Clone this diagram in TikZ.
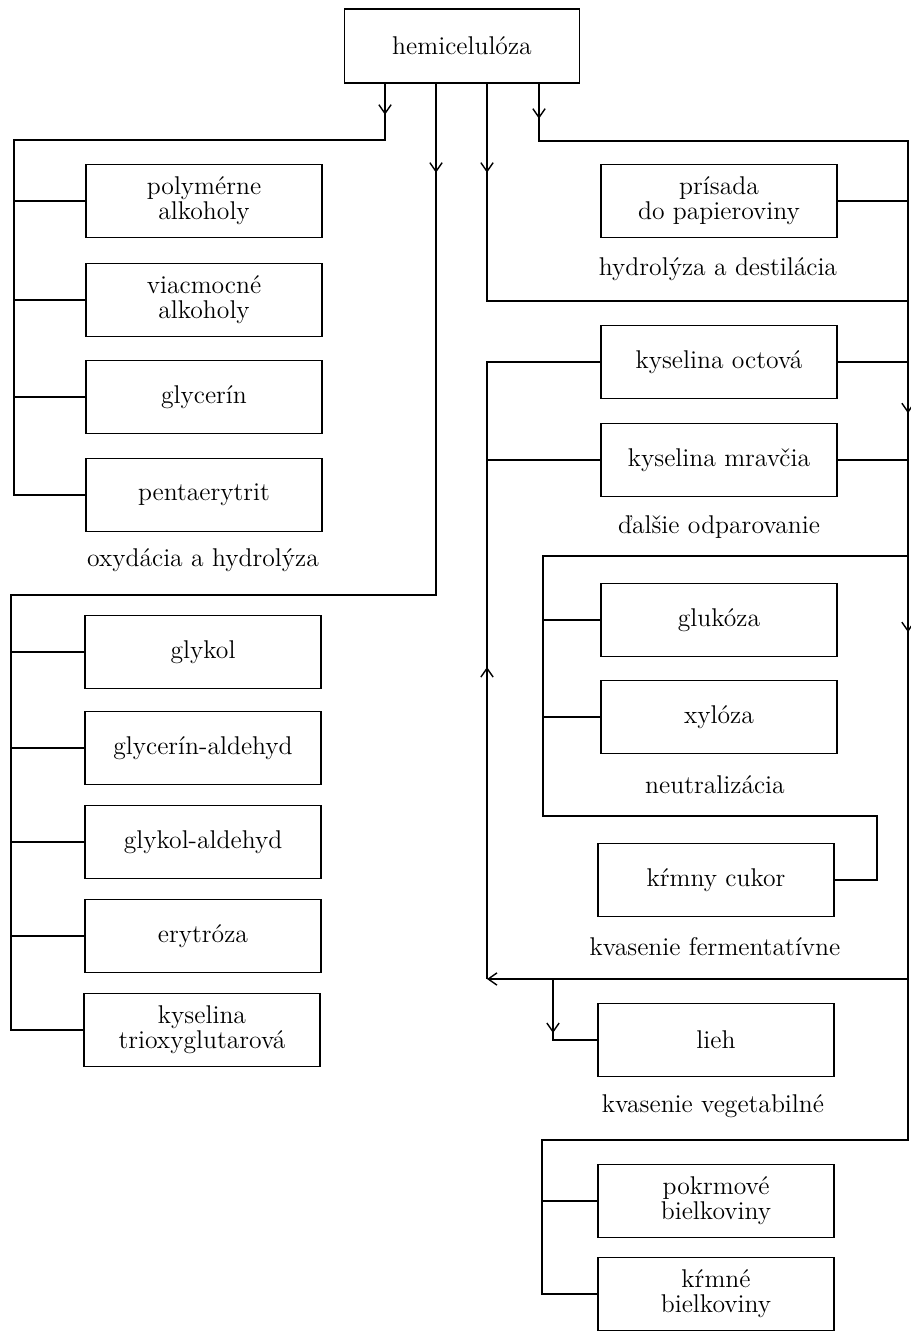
\documentclass[tikz,border=0pt]{standalone}
\usetikzlibrary{arrows.meta,decorations.markings}
\begin{document}
\begin{tikzpicture}[x=0.02cm,y=-0.02cm,thick,>={Straight Barb[length=5pt,width=7pt]},
box/.style={draw,minimum width=4.72cm,minimum height=1.46cm,align=center,inner sep=2pt,font=\fontsize{14.6}{14.2}\selectfont},
lbl/.style={align=center,font=\fontsize{14.6}{14.2}\selectfont},
arr/.style={postaction={decorate},decoration={markings,mark=at position #1 with {\arrow{>}}}}]
\useasboundingbox(0,0)rectangle(910,1332);
\node[box,minimum width=4.7cm,minimum height=1.48cm](hem)at(462,46){hemicelulóza};
\node[box](pa)at(204,201){polymérne\\alkoholy};
\node[box](va)at(204,300){viacmocné\\alkoholy};
\node[box](gl)at(204,397){glycerín};
\node[box](pe)at(204,495){pentaerytrit};
\node[lbl](oh)at(203,560){oxydácia a hydrolýza};
\node[box](gk)at(203,652){glykol};
\node[box](ga)at(203,748){glycerín-aldehyd};
\node[box](gd)at(203,842){glykol-aldehyd};
\node[box](er)at(203,936){erytróza};
\node[box](kt)at(202,1030){kyselina\\trioxyglutarová};
\node[box](pr)at(719,201){prísada\\do papieroviny};
\node[lbl](hd)at(718,269){hydrolýza a destilácia};
\node[box](ko)at(719,362){kyselina octová};
\node[box](km)at(719,460){kyselina mravčia};
\node[lbl](da)at(719,527){ďalšie odparovanie};
\node[box](gu)at(719,620){glukóza};
\node[box](xy)at(719,717){xylóza};
\node[lbl](ne)at(715,785){neutralizácia};
\node[box](kc)at(716,880){kŕmny cukor};
\node[lbl](kf)at(715,947){kvasenie fermentatívne};
\node[box](li)at(716,1040){lieh};
\node[lbl](kv)at(713,1106){kvasenie vegetabilné};
\node[box](pb)at(716,1201){pokrmové\\bielkoviny};
\node[box](kb)at(716,1294){kŕmné\\bielkoviny};
\coordinate(s1)at(385,140);\coordinate(s2)at(436,595);
\coordinate(s3)at(487,301);\coordinate(s4)at(539,141);
\coordinate(l1)at(14,0);\coordinate(l2)at(11,0);
\coordinate(r1)at(908,141);\coordinate(r2)at(908,301);\coordinate(r3)at(908,556);
\coordinate(r4)at(908,979);\coordinate(r5)at(908,1140);
\coordinate(n1)at(543,556);\coordinate(n2)at(543,816);\coordinate(n3)at(877,816);
\coordinate(c1)at(487,979);\coordinate(v1)at(553,979);\coordinate(b1)at(542,1140);
\draw[arr=0.62cm](hem.south-|s1)--(s1)--(s1-|l1)--(pe.west-|l1)--(pe.west);
\draw(pa.west)--(pa.west-|l1)(va.west)--(va.west-|l1)(gl.west)--(gl.west-|l1);
\draw[arr=1.78cm](hem.south-|s2)--(s2)--(s2-|l2)--(kt.west-|l2)--(kt.west);
\draw(gk.west)--(gk.west-|l2)(ga.west)--(ga.west-|l2)(gd.west)--(gd.west-|l2)
(er.west)--(er.west-|l2);
\draw[arr=1.78cm](hem.south-|s3)--(s3)--(r2);
\draw[arr=0.7cm](hem.south-|s4)--(s4)--(r1)--(r2);
\draw(pr.east)--(pr.east-|r1)(ko.east)--(ko.east-|r1)(km.east)--(km.east-|r1);
\draw[arr=0.44](r2)--(r3);
\draw[arr=0.18](r3)--(r4);
\draw(r3)--(n1)--(n2)--(n3)--(kc.east-|n3)--(kc.east);
\draw(gu.west)--(gu.west-|n1)(xy.west)--(xy.west-|n1);
\draw[->](r4)--(c1);
\draw[arr=6.24cm](c1)--(ko.west-|c1)--(ko.west);
\draw(km.west)--(km.west-|c1);
\draw[arr=1.08cm](v1)--(li.west-|v1)--(li.west);
\draw(r4)--(r5)--(b1)--(kb.west-|b1)--(kb.west);
\draw(pb.west)--(pb.west-|b1);
\end{tikzpicture}
\end{document}
